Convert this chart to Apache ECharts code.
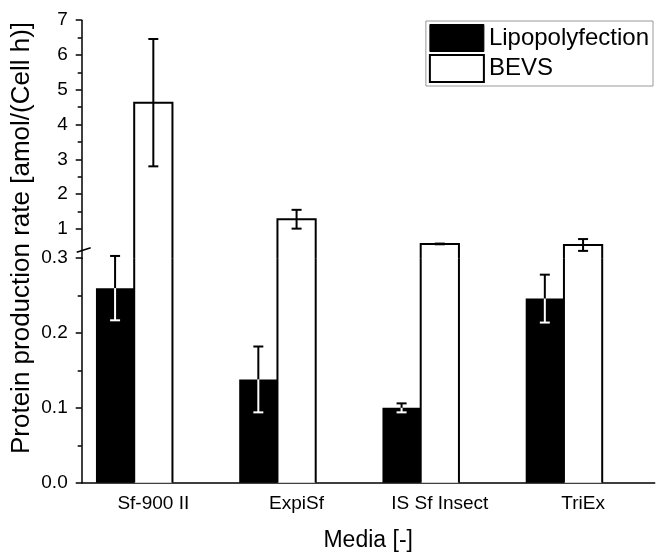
<!DOCTYPE html>
<html><head><meta charset="utf-8">
<script src="https://cdn.jsdelivr.net/npm/echarts@6/dist/echarts.min.js"></script>
<style>html,body{margin:0;padding:0;background:#fff}#c{width:657px;height:554px}</style>
</head><body><div id="c"></div>
<script>
// ---- data ----
const categories = ['Sf-900 II', 'ExpiSf', 'IS Sf Insect', 'TriEx'];
const lipoValues = [0.260, 0.138, 0.100, 0.246];
const lipoErrors = [0.043, 0.044, 0.006, 0.032];
const bevsValues = [4.63, 1.28, 0.57, 0.54];
const bevsErrors = [1.83, 0.27, 0.01, 0.17];
const upperTickLabels = [1, 2, 3, 4, 5, 6, 7];
const upperMinorTicks = [1.5, 2.5, 3.5, 4.5, 5.5, 6.5];

// ---- layout / style constants ----
const FONT = '"Liberation Sans", Arial, sans-serif';
const GRID_LEFT = 81.7, GRID_RIGHT = 2.3;
const BAR_FRAC = 0.267;
const CAP = 5;
const LW = 2;

const chart = echarts.init(document.getElementById('c'), null, {renderer: 'canvas'});

function line(x1, y1, x2, y2, color) {
  return {type: 'line', shape: {x1, y1, x2, y2}, style: {stroke: color, lineWidth: LW}};
}

function renderUpper(params, api) {
  const i = api.value(0), v = api.value(1), e = api.value(2);
  const w = api.size([1, 0])[0] * BAR_FRAC;
  const p = api.coord([i, v]);
  const cs = params.coordSys;
  const bottom = cs.y + cs.height;
  const left = p[0] - w / 2, right = p[0] + w / 2;
  const yh = api.coord([i, v + e])[1], yl = api.coord([i, v - e])[1];
  return {type: 'group', children: [
    {type: 'polyline', shape: {points: [[left, bottom], [left, p[1]], [right, p[1]], [right, bottom]]},
     style: {stroke: '#000', lineWidth: LW, fill: null}},
    line(p[0], yh, p[0], yl, '#000'),
    line(p[0] - CAP, yh, p[0] + CAP, yh, '#000'),
    line(p[0] - CAP, yl, p[0] + CAP, yl, '#000')
  ]};
}

function renderLower(params, api) {
  const i = api.value(0), lv = api.value(1), le = api.value(2);
  const w = api.size([1, 0])[0] * BAR_FRAC;
  const base = api.coord([i, 0]);
  const cx = base[0];
  const top = params.coordSys.y;
  const lx = cx - w;
  const yv = api.coord([i, lv])[1];
  const yh = api.coord([i, lv + le])[1];
  const yl = api.coord([i, lv - le])[1];
  return {type: 'group', children: [
    line(cx - w / 2, base[1], cx - w / 2, top, '#000'),
    line(cx + w / 2, base[1], cx + w / 2, top, '#000'),
    line(lx, yv, lx, yh, '#000'),
    line(lx - CAP, yh, lx + CAP, yh, '#000'),
    line(lx, yv, lx, yl, '#fff'),
    line(lx - CAP, yl, lx + CAP, yl, '#fff')
  ]};
}

const axisLineStyle = {color: '#000', width: 1.5};
const labelStyle = {color: '#000', fontSize: 19, fontFamily: FONT};

const option = {
  animation: false,
  backgroundColor: '#fff',
  grid: [
    {left: GRID_LEFT, right: GRID_RIGHT, top: 20.2, height: 238},
    {left: GRID_LEFT, right: GRID_RIGHT, top: 258.2, height: 224.5}
  ],
  legend: {
    orient: 'vertical', right: 4, top: 21,
    itemWidth: 54, itemHeight: 27, itemGap: 2,
    padding: [3, 4, 3, 3],
    borderColor: '#999', borderWidth: 1, backgroundColor: '#fff',
    selectedMode: false,
    textStyle: {color: '#000', fontSize: 24, fontFamily: FONT},
    data: [
      {name: 'Lipopolyfection', icon: 'rect', itemStyle: {color: '#000', borderColor: '#000', borderWidth: 1}},
      {name: 'BEVS', icon: 'rect', itemStyle: {color: '#fff', borderColor: '#000', borderWidth: 2}}
    ]
  },
  xAxis: [
    {gridIndex: 0, type: 'category', data: categories, show: false},
    {gridIndex: 1, type: 'category', data: categories, position: 'bottom',
     axisLine: {lineStyle: axisLineStyle},
     axisTick: {alignWithLabel: true, length: 7, lineStyle: axisLineStyle},
     axisLabel: Object.assign({margin: 12, interval: 0}, labelStyle),
     name: 'Media [-]', nameLocation: 'middle', nameGap: 46,
     nameTextStyle: {color: '#000', fontSize: 23, fontFamily: FONT}},
    {gridIndex: 1, type: 'category', data: categories, position: 'bottom',
     axisLine: {show: false},
     axisTick: {length: 4, lineStyle: axisLineStyle},
     axisLabel: {show: false}}
  ],
  yAxis: [
    {gridIndex: 0, type: 'value', min: 0.16, max: 7, position: 'left',
     axisLine: {show: true, lineStyle: axisLineStyle},
     axisTick: {show: true, length: 6, lineStyle: axisLineStyle, customValues: upperTickLabels},
     axisLabel: Object.assign({margin: 14, customValues: upperTickLabels}, labelStyle),
     splitLine: {show: false}},
    {gridIndex: 0, type: 'value', min: 0.16, max: 7, position: 'left',
     axisLine: {show: false},
     axisTick: {show: true, length: 4, lineStyle: axisLineStyle, customValues: upperMinorTicks},
     axisLabel: {show: false},
     splitLine: {show: false}},
    {gridIndex: 1, type: 'value', min: 0, max: 0.3, interval: 0.1, position: 'left',
     axisLine: {show: true, lineStyle: axisLineStyle},
     axisTick: {show: true, length: 6, lineStyle: axisLineStyle},
     minorTick: {show: true, splitNumber: 2, length: 4, lineStyle: axisLineStyle},
     axisLabel: Object.assign({margin: 14, formatter: v => v.toFixed(1)}, labelStyle),
     splitLine: {show: false}}
  ],
  series: [
    {name: 'Lipopolyfection', type: 'bar', xAxisIndex: 1, yAxisIndex: 2, data: lipoValues,
     barWidth: (BAR_FRAC * 100) + '%', barGap: '0%', itemStyle: {color: '#000'}},
    {name: 'BEVS', type: 'bar', xAxisIndex: 1, yAxisIndex: 2, data: bevsValues,
     barWidth: (BAR_FRAC * 100) + '%', barGap: '0%', itemStyle: {color: '#fff', borderWidth: 0}},
    {name: 'spacer', type: 'bar', xAxisIndex: 1, yAxisIndex: 2, data: [],
     barWidth: (BAR_FRAC * 100) + '%', barGap: '0%'},
    {name: 'BEVS-upper', type: 'bar', xAxisIndex: 0, yAxisIndex: 0, data: bevsValues,
     barWidth: (BAR_FRAC * 100) + '%', itemStyle: {color: '#fff', borderWidth: 0}},
    {name: 'BEVS-outline', type: 'custom', xAxisIndex: 0, yAxisIndex: 0, z: 3,
     data: bevsValues.map((v, i) => [i, v, bevsErrors[i]]), renderItem: renderUpper},
    {name: 'lower-lines', type: 'custom', xAxisIndex: 1, yAxisIndex: 2, z: 3,
     data: lipoValues.map((v, i) => [i, v, lipoErrors[i]]), renderItem: renderLower}
  ]
};
chart.setOption(option);

const yJoin = chart.convertToPixel({yAxisIndex: 2}, 0.3);
chart.setOption({
  graphic: [
    {type: 'text', x: 22, y: 238, rotation: Math.PI / 2,
     style: {text: 'Protein production rate [amol/(Cell h)]', fontSize: 26, fontFamily: FONT,
             fill: '#000', align: 'center', verticalAlign: 'middle'}},
    {type: 'line', shape: {x1: GRID_LEFT - 5, y1: yJoin - 6, x2: GRID_LEFT + 9, y2: yJoin - 10.5},
     style: {stroke: '#000', lineWidth: 1.5}}
  ]
});
</script></body></html>
